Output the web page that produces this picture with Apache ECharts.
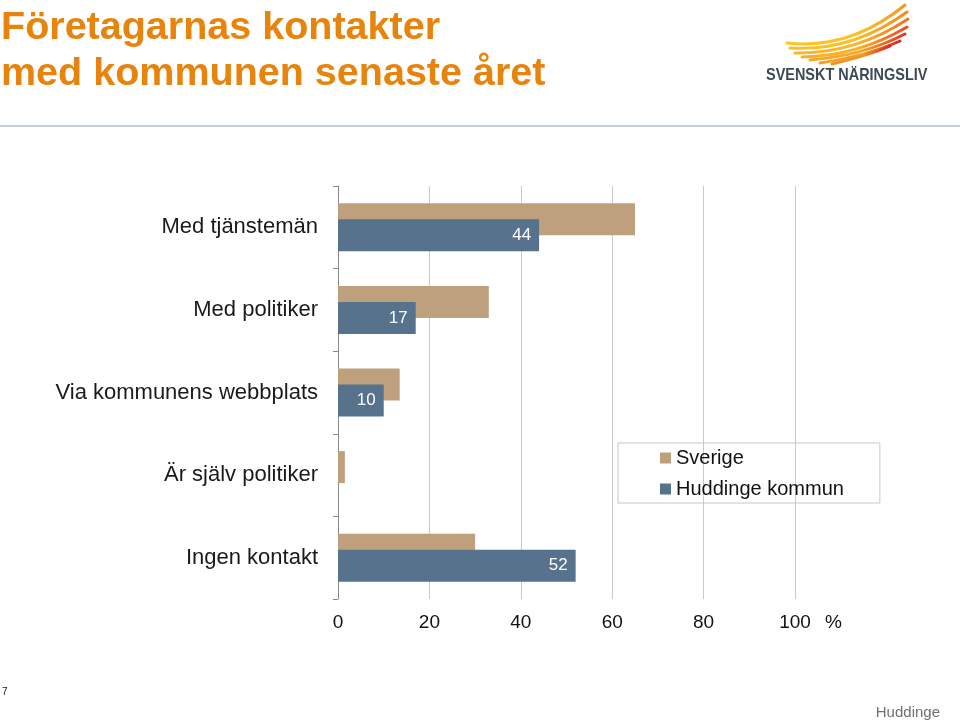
<!DOCTYPE html>
<html><head><meta charset="utf-8">
<script src="https://cdn.jsdelivr.net/npm/echarts@6/dist/echarts.min.js"></script>
<style>html,body{margin:0;padding:0;background:#fff}#c{width:960px;height:722px}</style>
</head><body><div id="c"></div>
<script>
const categories = ['Med tjänstemän', 'Med politiker', 'Via kommunens webbplats', 'Är själv politiker', 'Ingen kontakt'];
const sverige = [65, 33, 13.5, 1.5, 30];
const huddinge = [44, 17, 10, 0, 52];
const seriesNames = ['Sverige', 'Huddinge kommun'];
const axisMin = 0, axisMax = 100, axisStep = 20;
const titleText = 'Företagarnas kontakter\nmed kommunen senaste året';

const FONT = 'Liberation Sans, Arial, sans-serif';
const TAN = '#BFA07C', BLUE = '#56728D', ORANGE = '#E8830C';

// logo feathers: left tip, control, right tip, colour at left, colour at right
const feathers = [
  [787,43, 850,50, 905,5,  '#FAC52A', '#F29A1C'],
  [790,48, 852,52, 907,12, '#FAC02A', '#F08A1E'],
  [795,53, 855,54, 908,19, '#F9B829', '#EC7420'],
  [802,57, 858,56, 907,27, '#F8B028', '#E54E24'],
  [810,60, 862,56, 905,34, '#F6A827', '#DD3426'],
  [820,63, 866,56, 900,41, '#F3A026', '#D62727'],
  [832,64, 870,55, 890,46, '#F09525', '#D02528']
];

const chart = echarts.init(document.getElementById('c'), null, {renderer: 'canvas'});
chart.setOption({
  animation: false,
  backgroundColor: '#fff',
  textStyle: {fontFamily: FONT},
  title: {
    text: titleText, left: 1, top: 5, padding: 0,
    textStyle: {fontFamily: FONT, fontSize: 39.5, fontWeight: 'bold', color: ORANGE, lineHeight: 46}
  },
  legend: {
    orient: 'vertical', left: 618, top: 443,
    data: seriesNames,
    icon: 'rect', itemWidth: 11, itemHeight: 11, itemGap: 11,
    padding: [5, 36, 4, 42],
    borderColor: '#c8c8c8', borderWidth: 1,
    textStyle: {fontFamily: FONT, fontSize: 20, color: '#111', lineHeight: 20}
  },
  grid: {left: 338, right: 165, top: 186, bottom: 123, containLabel: false},
  xAxis: {
    type: 'value', min: axisMin, max: axisMax, interval: axisStep,
    axisLine: {show: false}, axisTick: {show: false},
    axisLabel: {fontFamily: FONT, fontSize: 19, color: '#111', margin: 14},
    splitLine: {show: true, lineStyle: {color: '#c9c9c9', width: 1}},
    name: '%', nameLocation: 'end', nameGap: 30,
    nameTextStyle: {fontFamily: FONT, fontSize: 19, color: '#111', verticalAlign: 'top', padding: [14, 0, 0, 0]}
  },
  yAxis: {
    type: 'category', inverse: true, data: categories,
    axisLine: {show: true, lineStyle: {color: '#8a8a8a', width: 1}},
    axisTick: {show: true, length: 5, lineStyle: {color: '#8a8a8a'}},
    axisLabel: {fontFamily: FONT, fontSize: 22, color: '#1a1a1a', margin: 20}
  },
  series: [
    {name: seriesNames[0], type: 'bar', data: sverige, barWidth: 32, barGap: '-50%',
     itemStyle: {color: TAN}},
    {name: seriesNames[1], type: 'bar', data: huddinge, barWidth: 32, barGap: '-50%',
     itemStyle: {color: BLUE},
     label: {show: true, position: 'insideRight', distance: 8, color: '#fff', fontFamily: FONT, fontSize: 17,
             formatter: p => p.value ? String(p.value) : ''}}
  ],
  graphic: [
    {type: 'line', shape: {x1: 0, y1: 126, x2: 960, y2: 126}, style: {stroke: '#c3ced6', lineWidth: 2}},
    ...feathers.map(f => ({type: 'bezierCurve',
      shape: {x1: f[0], y1: f[1], cpx1: f[2], cpy1: f[3], x2: f[4], y2: f[5]},
      style: {fill: null, lineWidth: 3, lineCap: 'round',
        stroke: new echarts.graphic.LinearGradient(f[0], 0, f[4], 0,
          [{offset: 0, color: f[6]}, {offset: 0.55, color: f[6]}, {offset: 1, color: f[7]}], true)}})),
    {type: 'text', x: 766, y: 67, scaleX: 0.85, scaleY: 1, originX: 0, originY: 0,
     style: {text: 'SVENSKT NÄRINGSLIV', fontFamily: FONT, fontSize: 17, fontWeight: 'bold', fill: '#3D4955'}},
    {type: 'text', left: 2, top: 687, style: {text: '7', fontFamily: FONT, fontSize: 10, fill: '#222'}},
    {type: 'text', right: 20, top: 705, style: {text: 'Huddinge', fontFamily: FONT, fontSize: 15, fill: '#707070'}}
  ]
});
</script>
</body></html>
